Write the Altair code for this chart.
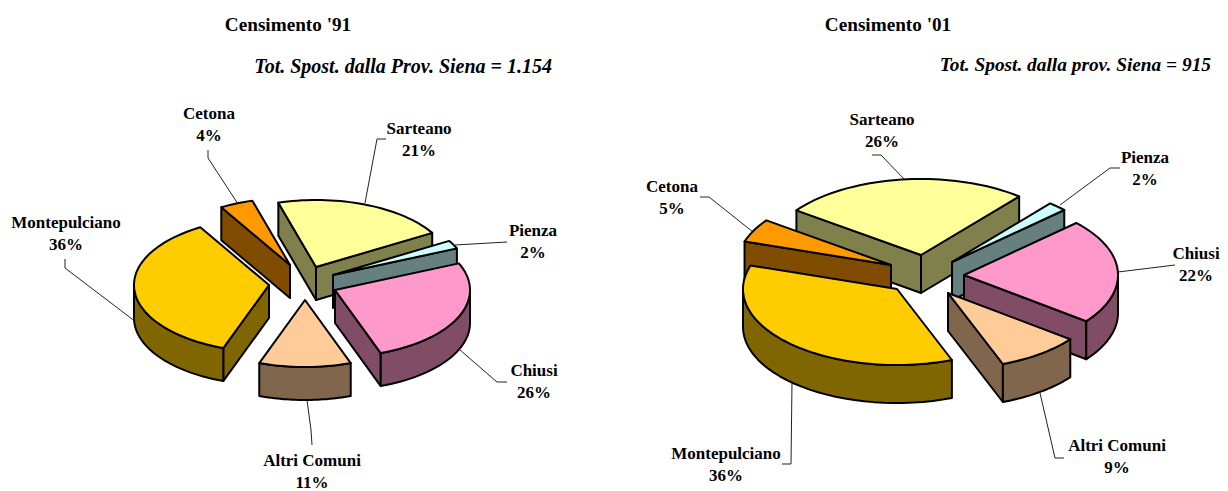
import math
import altair as alt

# ---- values ----
CATEGORIES = ["Sarteano", "Pienza", "Chiusi", "Altri Comuni", "Montepulciano", "Cetona"]
SHARES_91 = [21, 2, 26, 11, 36, 4]
SHARES_01 = [26, 2, 22.4, 8.8, 35.8, 5]
TITLES = ["Censimento '91", "Censimento '01"]
SUBTITLES = ["Tot. Spost. dalla Prov. Siena = 1.154", "Tot. Spost. dalla prov. Siena = 915"]

# ---- styles ----
TOP = ["#FFFF99", "#CCFFFF", "#FF99CC", "#FFCC99", "#FFCC00", "#FF9900"]
WALL = ["#80804C", "#668080", "#804C66", "#80664C", "#806600", "#804C00"]

# ---- layout (page pixels) ----
M = 8
PIES = [
    dict(shares=SHARES_91, start=-16.2, rx=135, ry=67, depth=33,
         apex=[(316, 267), (333, 275), (335, 290), (305, 300), (269, 285), (290, 265)],
         title=(288, 25), sub=(552, 67), sub_size=20,
         labels=[(419, 129), (533, 231), (534, 371), (312, 461), (66, 223), (209, 114)],
         leaders=[[(386, 139), (377, 139), (365, 203)],
                  [(507, 242), (455, 245)],
                  [(507, 382), (497, 382), (460, 350)],
                  [(312, 445), (311, 430), (307, 400)],
                  [(65, 259), (65, 268), (136, 322)],
                  [(208, 150), (208, 158), (238, 204)]]),
    dict(shares=SHARES_01, start=-54, rx=154, ry=76, depth=38,
         apex=[(921, 255), (952, 262), (964, 275), (948, 293), (897, 289), (891, 265)],
         title=(888, 25), sub=(1211, 65), sub_size=19.35,
         labels=[(882, 120), (1145, 158), (1196, 254), (1117, 446), (726, 454), (672, 187)],
         leaders=[[(872, 155), (881, 155), (904, 179)],
                  [(1120, 168), (1110, 168), (1060, 205)],
                  [(1175, 265), (1118, 272)],
                  [(1064, 458), (1055, 458), (1040, 393)],
                  [(782, 464), (791, 464), (792, 383)],
                  [(700, 197), (709, 197), (753, 232)]]),
]


def pt(p, dy=0):
    return [p[0] - M, p[1] + dy - M]


def feature(coords, fill, kind="Polygon"):
    geometry = {"type": kind, "coordinates": [coords] if kind == "Polygon" else coords}
    return {"type": "Feature", "geometry": geometry, "properties": {"fill": fill}}


faces, leaders, labels, titles, subs = [], [], [], [], []
for k, pie in enumerate(PIES):
    a0 = pie["start"]
    slices = []
    for i, share in enumerate(pie["shares"]):
        a1 = a0 + share * 3.6
        slices.append((i, a0, a1))
        a0 = a1
    slices.sort(key=lambda s: -math.cos(math.radians((s[1] + s[2]) / 2)))
    for i, a0, a1 in slices:
        ax, ay = pie["apex"][i]
        d = pie["depth"]

        def edge(a):
            r = math.radians(a)
            return (ax + pie["rx"] * math.sin(r), ay - pie["ry"] * math.cos(r))

        steps = max(4, int((a1 - a0) / 2))
        angles = [a0 + (a1 - a0) * j / steps for j in range(steps + 1)]
        arc = [edge(a) for a in angles]
        mid = edge((a0 + a1) / 2)
        # radial walls facing the viewer
        for p in (arc[0], arc[-1]):
            ex, ey = p[0] - ax, p[1] - ay
            nx, ny = -ey, ex
            if nx * (mid[0] - ax) + ny * (mid[1] - ay) > 0:
                nx, ny = -nx, -ny
            if ny > 0:
                ring = [pt((ax, ay)), pt(p), pt(p, d), pt((ax, ay), d), pt((ax, ay))]
                faces.append(feature(ring, WALL[i]))
        # curved wall: only the front half of the rim (90..270 degrees)
        lo, hi = max(a0, 90), min(a1, 270)
        if lo < hi:
            rim = [edge(lo + (hi - lo) * j / 30) for j in range(31)]
            ring = [pt(p) for p in rim] + [pt(p, d) for p in reversed(rim)]
            ring.append(ring[0])
            faces.append(feature(ring, WALL[i]))
        # top face
        ring = [pt((ax, ay))] + [pt(p) for p in arc] + [pt((ax, ay))]
        faces.append(feature(ring, TOP[i]))
    for i, name in enumerate(CATEGORIES):
        lx, ly = pie["labels"][i]
        labels.append({"lon": lx - M, "lat": ly - M, "text": name})
        labels.append({"lon": lx - M, "lat": ly + 22 - M, "text": f"{round(pie['shares'][i])}%"})
        leaders.append(feature([pt(p) for p in pie["leaders"][i]], "none", "LineString"))
    titles.append({"lon": pie["title"][0] - M, "lat": pie["title"][1] - M, "text": TITLES[k]})
    subs.append({"lon": pie["sub"][0] - M, "lat": pie["sub"][1] - M, "text": SUBTITLES[k],
                 "size": pie["sub_size"]})

FONT = "Liberation Serif"
face_layer = alt.Chart(alt.Data(values=faces)).mark_geoshape(
    stroke="black", strokeWidth=2, strokeJoin="round"
).encode(fill=alt.Fill("properties.fill:N", scale=None))
leader_layer = alt.Chart(alt.Data(values=leaders)).mark_geoshape(
    filled=False, stroke="#222222", strokeWidth=1
)


def text_layer(rows, size, align="center", style="normal"):
    return alt.Chart(alt.Data(values=rows)).mark_text(
        font=FONT, fontWeight="bold", fontStyle=style, fontSize=size,
        align=align, baseline="middle", color="black"
    ).encode(longitude="lon:Q", latitude="lat:Q", text="text:N")


sub_layer = alt.Chart(alt.Data(values=subs)).mark_text(
    font=FONT, fontWeight="bold", fontStyle="italic",
    align="right", baseline="middle", color="black"
).encode(
    longitude="lon:Q", latitude="lat:Q", text="text:N",
    size=alt.Size("size:Q", scale=None, legend=None),
)

chart = alt.layer(
    leader_layer,
    face_layer,
    text_layer(labels, 17),
    text_layer(titles, 19.2),
    sub_layer,
).project(type="identity", scale=1, translate=[0, 0]).properties(
    width=1212, height=483, padding=0, background="white"
).configure_view(stroke=None)

chart.save("out.html", embed_options={"renderer": "svg", "actions": False})
